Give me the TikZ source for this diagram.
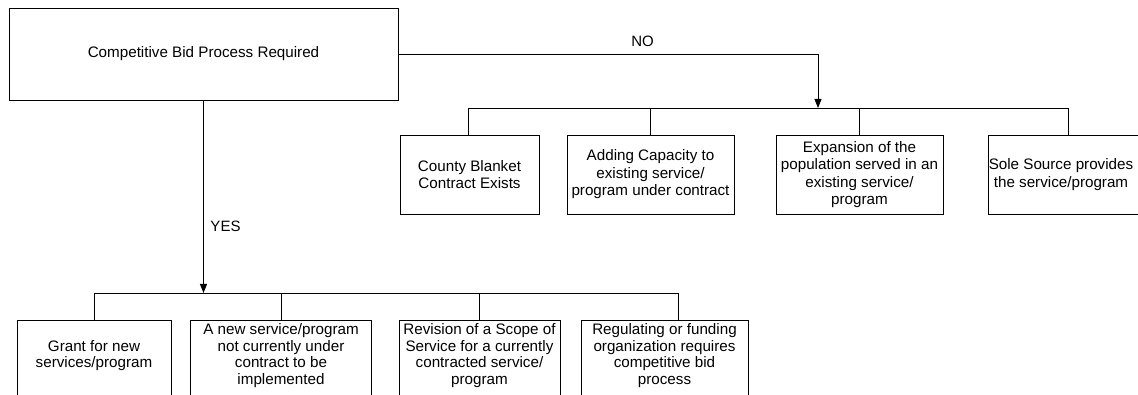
\documentclass[tikz,border=0pt]{standalone}
\usepackage{fontspec}
\setmainfont{Liberation Sans}
\usetikzlibrary{arrows.meta}
\begin{document}
\begin{tikzpicture}[x=1pt,y=-1pt,
  box/.style={draw, line width=0.9pt, align=center, inner sep=0pt, font=\fontsize{15.2}{17.5}\selectfont},
  lowbox/.style={box, font=\fontsize{15.2}{16.5}\selectfont},
  conn/.style={line width=0.9pt},
  arr/.style={conn, -{Triangle[length=9pt,width=7pt]}},
  lbl/.style={font=\fontsize{15}{17}\selectfont, inner sep=0pt}]
\useasboundingbox (0,0) rectangle (1138,395);
% root
\node[box, minimum width=389pt, minimum height=92pt] (top) at (203.5,54) {Competitive Bid Process Required};
% top row
\node[box, minimum width=139pt, minimum height=79pt] (county) at (469.5,174.5) {County Blanket\\Contract Exists};
\node[box, minimum width=167pt, minimum height=79pt] (adding) at (650.5,174.5) {Adding Capacity to\\existing service/\\program under contract};
\node[box, minimum width=167pt, minimum height=79pt] (expan) at (859.5,174.5) {Expansion of the\\population served in an\\existing service/\\program};
\node[box, minimum width=162pt, minimum height=79pt] (sole) at (1069,174.5) {Sole Source provides\hspace*{16pt}\\the service/program\hspace*{16pt}};
% bottom row
\node[lowbox, minimum width=154pt, minimum height=80pt] (grant) at (94,360) {Grant for new\\services/program\\[-4.5pt]};
\node[lowbox, minimum width=181pt, minimum height=80pt] (newsvc) at (281,360) {A new service/program\\not currently under\\contract to be\\implemented\\[-4.5pt]};
\node[lowbox, minimum width=161pt, minimum height=80pt] (revis) at (479.5,360) {Revision of a Scope of\\Service for a currently\\contracted service/\\program\\[-4.5pt]};
\node[lowbox, minimum width=167pt, minimum height=80pt] (regul) at (664.5,360) {Regulating or funding\\organization requires\\competitive bid\\process\\[-4.5pt]};
% NO branch
\coordinate (nocorner) at (818,54);
\coordinate (busT) at (818,108);
\coordinate (busTL) at (468,108);
\coordinate (busTR) at (1068,108);
\draw[conn] (top.east |- nocorner) -- (nocorner);
\draw[arr] (nocorner) -- (busT);
\node[lbl] (nolbl) at (642.5,41.5) {NO};
\draw[conn] (busTL) -- (busTR);
\draw[conn] (busTL) -- (busTL |- county.north);
\draw[conn] (adding.north |- busT) -- (adding.north);
\draw[conn] (expan.north |- busT) -- (expan.north);
\draw[conn] (busTR) -- (busTR |- sole.north);
% YES branch
\coordinate (busB) at (203.5,293);
\coordinate (busBL) at (94,293);
\coordinate (busBR) at (678,293);
\draw[arr] (top.south) -- (busB);
\node[lbl] (yeslbl) at (225.5,226.5) {YES};
\draw[conn] (busBL) -- (busBR);
\draw[conn] (busBL) -- (grant.north);
\draw[conn] (newsvc.north |- busB) -- (newsvc.north);
\draw[conn] (revis.north |- busB) -- (revis.north);
\draw[conn] (busBR) -- (busBR |- regul.north);
\end{tikzpicture}
\end{document}
